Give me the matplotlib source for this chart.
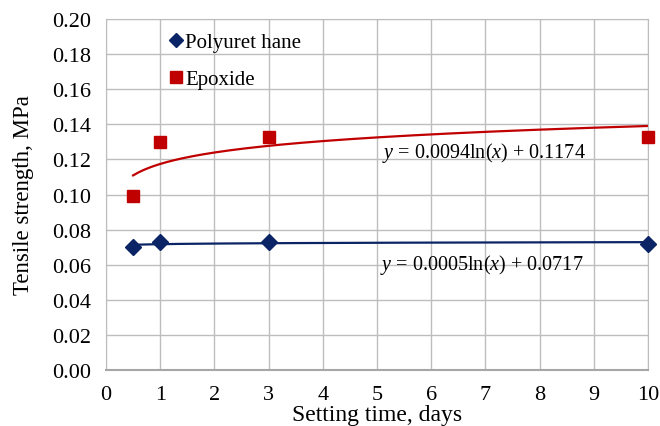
import numpy as np
import matplotlib.pyplot as plt
from matplotlib.lines import Line2D

plt.rcParams['font.family'] = 'Liberation Serif'
plt.rcParams['mathtext.fontset'] = 'custom'
plt.rcParams['mathtext.rm'] = 'Liberation Serif'
plt.rcParams['mathtext.it'] = 'Liberation Serif:italic'

# data
days = [0.5, 1, 3, 10]
polyurethane = [0.070, 0.073, 0.073, 0.072]
epoxide = [0.099, 0.130, 0.133, 0.133]

# trendline coefficients (a*ln(x) + b) as printed on the chart
pu_fit = (0.0005, 0.0717)
ep_fit = (0.0094, 0.1174)

navy = '#0b2465'
red = '#c00000'

fig = plt.figure(figsize=(6.6, 4.27), dpi=100)
ax = fig.add_axes([0.1606, 0.1311, 0.8212, 0.8221])

xs = np.linspace(min(days), max(days), 200)
ax.plot(xs, pu_fit[0] * np.log(xs) + pu_fit[1], color=navy, lw=1.6, zorder=2)
ax.plot(xs, ep_fit[0] * np.log(xs) + ep_fit[1], color=red, lw=1.6, zorder=2)

ax.plot(days, polyurethane, linestyle='none', marker='D', ms=8.5, color=navy,
        zorder=3, clip_on=False)
ax.plot(days, epoxide, linestyle='none', marker='s', ms=8, color=red,
        zorder=3, clip_on=False)

ax.text(5.09, 0.1242, '$y$ = 0.0094ln($x$) + 0.1174', fontsize=14.5, va='center')
ax.text(5.05, 0.0604, '$y$ = 0.0005ln($x$) + 0.0717', fontsize=14.5, va='center')

ax.set_xlim(0, 10)
ax.set_ylim(0, 0.20)
ax.set_xticks(range(0, 11))
ax.set_yticks(np.arange(0, 0.201, 0.02))
ax.set_yticklabels([f'{v:.2f}' for v in np.arange(0, 0.201, 0.02)])
ax.tick_params(axis='y', length=0, labelsize=16, pad=11)
ax.tick_params(axis='x', length=0, labelsize=16, pad=11)
ax.grid(True, color='#bdbdbd', lw=1)
ax.set_axisbelow(True)
for s in ax.spines.values():
    s.set_color('#bdbdbd')
ax.spines['bottom'].set_color('#a6a6a6')
ax.spines['bottom'].set_linewidth(1.5)

ax.set_xlabel('Setting time, days', fontsize=17, labelpad=0)
ax.set_ylabel('Tensile strength, MPa', fontsize=16.5, labelpad=13)

handles = [
    Line2D([], [], linestyle='none', marker='D', ms=7, color=navy),
    Line2D([], [], linestyle='none', marker='s', ms=8.5, color=red),
]
ax.legend(handles, ['Polyuret hane', 'Epoxide'], loc='upper left',
          bbox_to_anchor=(0.102, 0.985), frameon=False,
          fontsize=15, handlelength=0.6, handletextpad=0.15,
          labelspacing=0.85, borderaxespad=0)

fig.savefig('out.png', dpi=100)
